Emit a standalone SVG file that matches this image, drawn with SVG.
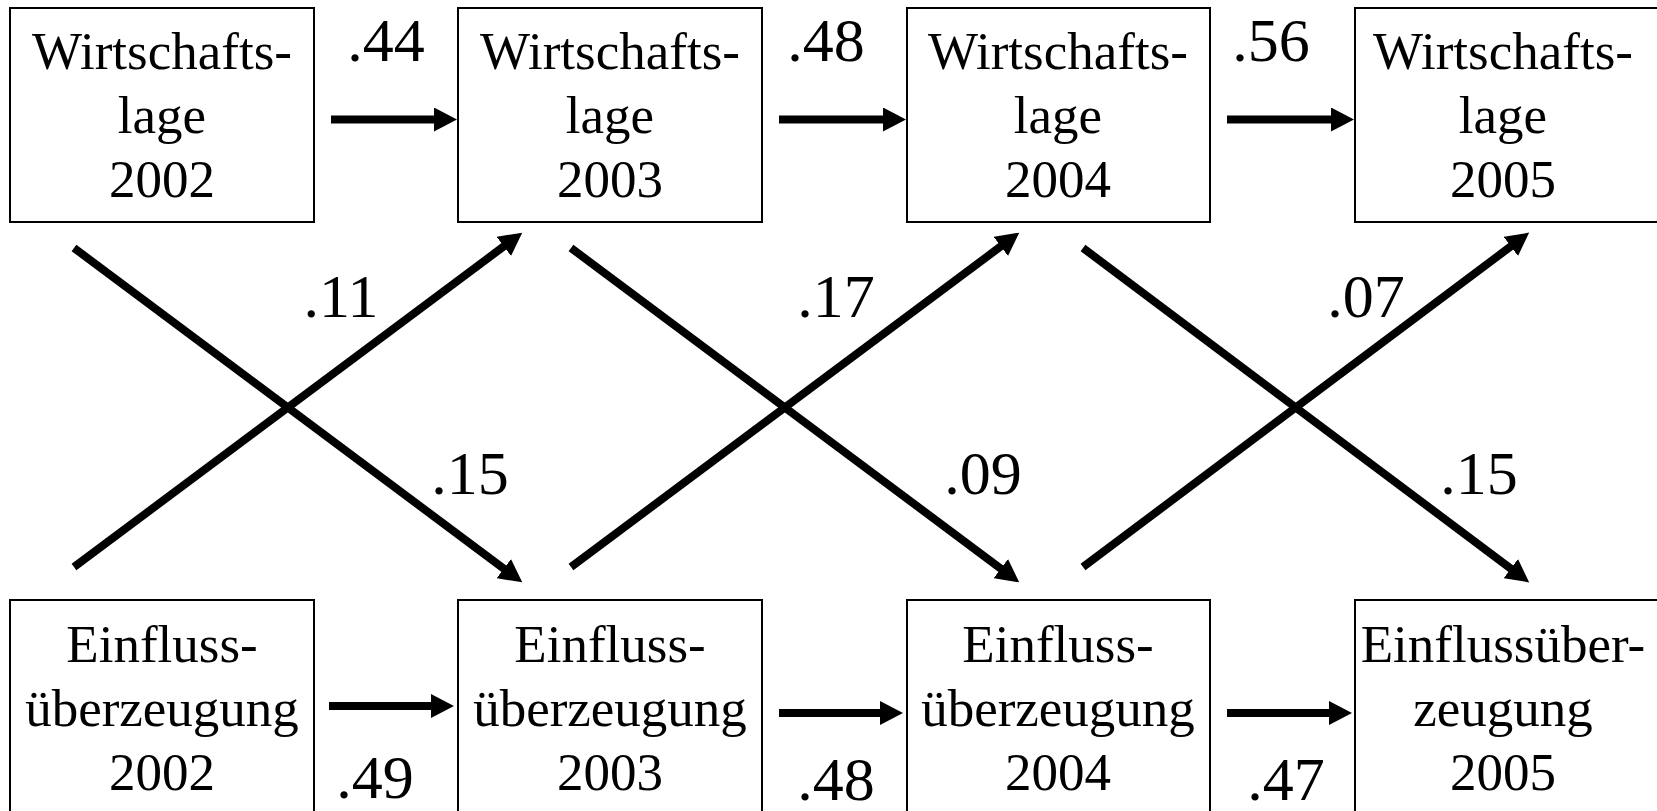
<svg xmlns="http://www.w3.org/2000/svg" width="1657" height="811" viewBox="0 0 1657 811">
<style>
.box{fill:#fff;stroke:#000;stroke-width:2}
.t{font-family:"Liberation Serif","Times New Roman",serif;font-size:53px;fill:#000;text-anchor:middle}
.l{font-family:"Liberation Serif","Times New Roman",serif;font-size:62px;fill:#000;text-anchor:middle}
.c{stroke:#000;stroke-width:8;fill:none;marker-end:url(#ah)}
</style>
<defs>
<marker id="ah" markerUnits="userSpaceOnUse" markerWidth="24" markerHeight="24" refX="1" refY="12" orient="auto" viewBox="0 0 24 24">
<path d="M0,0 L23,12 L0,24 z" fill="#000"/>
</marker>
</defs>
<rect width="1657" height="811" fill="#fff"/>
<g id="w2002"><rect class="box" x="10" y="8" width="304" height="214"/><text class="t"><tspan x="162" y="69">Wirtschafts-</tspan><tspan x="162" y="133">lage</tspan><tspan x="162" y="197">2002</tspan></text></g>
<g id="w2003"><rect class="box" x="458" y="8" width="304" height="214"/><text class="t"><tspan x="610" y="69">Wirtschafts-</tspan><tspan x="610" y="133">lage</tspan><tspan x="610" y="197">2003</tspan></text></g>
<g id="w2004"><rect class="box" x="907" y="8" width="303" height="214"/><text class="t"><tspan x="1058" y="69">Wirtschafts-</tspan><tspan x="1058" y="133">lage</tspan><tspan x="1058" y="197">2004</tspan></text></g>
<g id="w2005"><rect class="box" x="1355" y="8" width="330" height="214"/><text class="t"><tspan x="1503" y="69">Wirtschafts-</tspan><tspan x="1503" y="133">lage</tspan><tspan x="1503" y="197">2005</tspan></text></g>
<g id="e2002"><rect class="box" x="10" y="600" width="304" height="240"/><text class="t"><tspan x="162" y="662">Einfluss-</tspan><tspan x="162" y="726">überzeugung</tspan><tspan x="162" y="790">2002</tspan></text></g>
<g id="e2003"><rect class="box" x="458" y="600" width="304" height="240"/><text class="t"><tspan x="610" y="662">Einfluss-</tspan><tspan x="610" y="726">überzeugung</tspan><tspan x="610" y="790">2003</tspan></text></g>
<g id="e2004"><rect class="box" x="907" y="600" width="303" height="240"/><text class="t"><tspan x="1058" y="662">Einfluss-</tspan><tspan x="1058" y="726">überzeugung</tspan><tspan x="1058" y="790">2004</tspan></text></g>
<g id="e2005"><rect class="box" x="1355" y="600" width="330" height="240"/><text class="t"><tspan x="1503" y="662">Einflussüber-</tspan><tspan x="1503" y="726">zeugung</tspan><tspan x="1503" y="790">2005</tspan></text></g>
<g id="connectors">
<line class="c" x1="331" y1="119.5" x2="435" y2="119.5"/>
<line class="c" x1="779" y1="119.5" x2="884" y2="119.5"/>
<line class="c" x1="1227" y1="119.5" x2="1332" y2="119.5"/>
<line class="c" x1="329" y1="706" x2="432" y2="706"/>
<line class="c" x1="779" y1="713" x2="881" y2="713"/>
<line class="c" x1="1227" y1="713" x2="1330" y2="713"/>
<line class="c" x1="74" y1="248" x2="504.6" y2="569.2"/>
<line class="c" x1="74" y1="567" x2="504.6" y2="245.8"/>
<line class="c" x1="571" y1="248" x2="1001.6" y2="569.2"/>
<line class="c" x1="571" y1="567" x2="1001.6" y2="245.8"/>
<line class="c" x1="1083" y1="248" x2="1511.6" y2="569.2"/>
<line class="c" x1="1083" y1="567" x2="1511.6" y2="245.8"/>
<text class="l" x="386" y="61">.44</text>
<text class="l" x="826" y="61">.48</text>
<text class="l" x="1271" y="61">.56</text>
<text class="l" x="375" y="798">.49</text>
<text class="l" x="836" y="800">.48</text>
<text class="l" x="1286" y="800">.47</text>
<text class="l" x="341" y="317">.11</text>
<text class="l" x="470" y="494">.15</text>
<text class="l" x="836" y="317">.17</text>
<text class="l" x="983" y="494">.09</text>
<text class="l" x="1366" y="317">.07</text>
<text class="l" x="1479" y="494">.15</text>
</g>
</svg>
